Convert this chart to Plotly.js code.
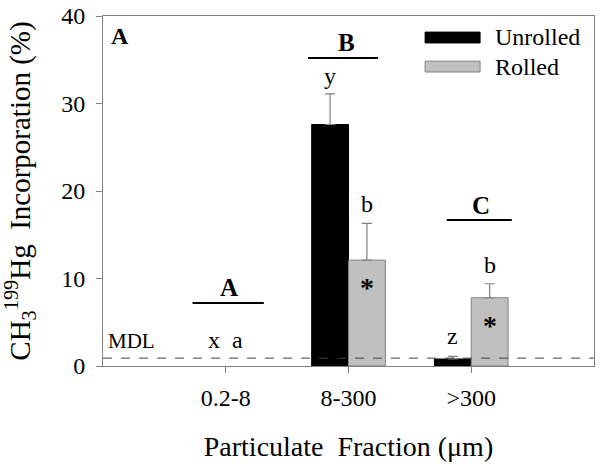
<!DOCTYPE html>
<html>
<head>
<meta charset="utf-8">
<script src="https://cdn.plot.ly/plotly-3.0.1.min.js"></script>
</head>
<body style="margin:0">
<div id="chart" style="width:602px;height:468px"></div>
<script>
// ---- data ----
const categories = ["0.2-8", "8-300", ">300"];
const unrolled = [null, 27.6, 0.8];
const unrolledErr = [null, 3.5, 0.3];
const rolled = [null, 12.1, 7.8];
const rolledErr = [null, 4.2, 1.6];
const seriesNames = ["Unrolled", "Rolled"];
const yTicks = [0, 10, 20, 30, 40];
const mdl = 0.9;

const FAM = "Liberation Serif";
const zeros = [0, 0, 0];
const traces = [
  {type: "bar", name: seriesNames[0], x: categories, y: unrolled,
   marker: {color: "#000000", line: {color: "#000000", width: 1}},
   error_y: {type: "data", symmetric: false, array: unrolledErr, arrayminus: zeros, visible: true, color: "#808080", thickness: 1.2, width: 5},
   showlegend: false},
  {type: "bar", name: seriesNames[1], x: categories, y: rolled,
   marker: {color: "#c0c0c0", line: {color: "#808080", width: 1}},
   error_y: {type: "data", symmetric: false, array: rolledErr, arrayminus: zeros, visible: true, color: "#808080", thickness: 1.2, width: 5},
   showlegend: false}
];

function lbl(x, y, text, size, bold) {
  return {xref: "x", yref: "y", x: x, y: y, text: bold ? "<b>" + text + "</b>" : text,
          showarrow: false, font: {family: FAM, size: size, color: "#000"}};
}

const layout = {
  width: 602, height: 468,
  margin: {l: 103, r: 8, t: 16, b: 102},
  paper_bgcolor: "#fff", plot_bgcolor: "#fff",
  barmode: "group", bargap: 0.4, bargroupgap: 0,
  font: {family: FAM, size: 20, color: "#000"},
  xaxis: {
    type: "category", range: [-1, 3], categoryorder: "array", categoryarray: categories,
    showline: true, linecolor: "#808080", linewidth: 1, mirror: true,
    ticks: "outside", ticklen: 6, tickcolor: "#808080", ticklabelstandoff: 4,
    tickfont: {family: FAM, size: 24, color: "#000"}, showgrid: false, zeroline: false,
    title: {text: "Particulate  Fraction (μm)", font: {family: FAM, size: 28, color: "#000"}, standoff: 26}
  },
  yaxis: {
    range: [0, 40], tickvals: yTicks, ticktext: yTicks.map(String),
    showline: true, linecolor: "#808080", linewidth: 1, mirror: true,
    ticks: "outside", ticklen: 6, tickcolor: "#808080", ticklabelstandoff: 6,
    tickfont: {family: FAM, size: 24, color: "#000"}, showgrid: false, zeroline: false,
    title: {text: "CH<sub>3</sub><sup>199</sup>Hg  Incorporation (%)", font: {family: FAM, size: 29, color: "#000"}, standoff: 22}
  },
  shapes: [
    {type: "line", xref: "paper", yref: "y", x0: 0, x1: 1, y0: mdl, y1: mdl,
     line: {color: "#404040", width: 1, dash: "dash"}},
    {type: "line", xref: "x", yref: "y", x0: 0.67, x1: 1.24, y0: 35.2, y1: 35.2, line: {color: "#000", width: 2}},
    {type: "line", xref: "x", yref: "y", x0: 1.8, x1: 2.33, y0: 16.7, y1: 16.7, line: {color: "#000", width: 2}},
    {type: "line", xref: "x", yref: "y", x0: -0.27, x1: 0.31, y0: 7.2, y1: 7.2, line: {color: "#000", width: 2}},
    {type: "rect", xref: "paper", yref: "paper", x0: 0.656, x1: 0.768, y0: 0.923, y1: 0.954,
     fillcolor: "#000", line: {color: "#000", width: 1}},
    {type: "rect", xref: "paper", yref: "paper", x0: 0.656, x1: 0.768, y0: 0.840, y1: 0.871,
     fillcolor: "#c0c0c0", line: {color: "#808080", width: 1}}
  ],
  annotations: [
    {xref: "paper", yref: "paper", x: 0.794, y: 0.94, xanchor: "left", yanchor: "middle", text: seriesNames[0],
     showarrow: false, font: {family: FAM, size: 24, color: "#000"}},
    {xref: "paper", yref: "paper", x: 0.794, y: 0.855, xanchor: "left", yanchor: "middle", text: seriesNames[1],
     showarrow: false, font: {family: FAM, size: 24, color: "#000"}},
    {xref: "paper", yref: "paper", x: 0.012, y: 0.943, xanchor: "left", yanchor: "middle", text: "<b>A</b>",
     showarrow: false, font: {family: FAM, size: 24, color: "#000"}},
    {xref: "paper", yref: "y", x: 0.006, y: 2.9, xanchor: "left", text: "MDL",
     showarrow: false, font: {family: FAM, size: 21, color: "#000"}},
    lbl(0.98, 37.0, "B", 25, true),
    lbl(2.08, 18.3, "C", 25, true),
    lbl(0.03, 9.0, "A", 25, true),
    lbl(0.0, 3.0, "x  a", 24, false),
    lbl(0.85, 33.2, "y", 24, false),
    lbl(1.15, 18.5, "b", 24, false),
    lbl(1.85, 3.4, "z", 24, false),
    lbl(2.15, 11.5, "b", 24, false),
    lbl(1.15, 9.0, "*", 28, true),
    lbl(2.15, 4.6, "*", 28, true)
  ]
};

Plotly.newPlot("chart", traces, layout, {displayModeBar: false, staticPlot: true});
</script>
</body>
</html>
